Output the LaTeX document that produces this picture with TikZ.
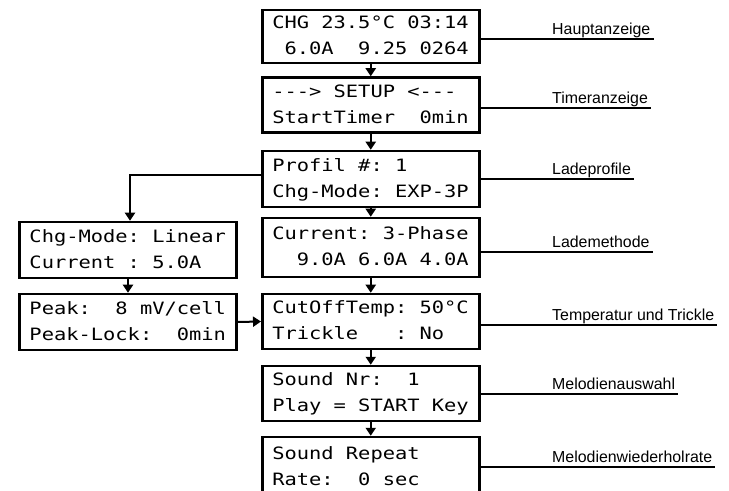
\documentclass[tikz,border=0pt]{standalone}
\usepackage{fontspec}
\usetikzlibrary{arrows.meta}
\newfontfamily\lcdfont[FakeStretch=1.2]{DejaVu Sans Mono}
\newfontfamily\labfont{Liberation Sans}
\newcommand\lc{\phantom{0}}
\tikzset{
  lcdbox/.style={draw, line width=2.5bp, minimum width=217bp, minimum height=55bp,
    inner sep=0pt, text width=197bp, align=left,
    font=\lcdfont\fontsize{17bp}{26bp}\selectfont},
  lab/.style={anchor=south west, inner xsep=3bp, inner ysep=4.5bp, text depth=0pt,
    font=\labfont\fontsize{15.9bp}{18bp}\selectfont},
  labline/.style={line width=2bp},
  conn/.style={line width=2bp, -{Triangle[width=10bp,length=8bp]}},
}
\begin{document}
\begin{tikzpicture}[x=1bp,y=-1bp]
\useasboundingbox (0,0) rectangle (729,491);
\clip (0,0) rectangle (729,491);
\fill[white] (0,0) rectangle (729,491);
% centre column
\node[lcdbox, minimum height=53bp] (b1) at (370.75,36.5) {\strut CHG\lc 23.5°C\lc 03:14\\\strut \lc 6.0A\lc\lc 9.25\lc 0264};
\node[lcdbox] (b2) at (370.75,105) {\strut -{}-{}->\lc SETUP\lc <-{}-{}-\\\strut StartTimer\lc\lc 0min};
\node[lcdbox, minimum height=56bp] (b3) at (370.75,179) {\strut Profil\lc\#:\lc 1\\\strut Chg-Mode:\lc EXP-3P};
\node[lcdbox, minimum height=59bp] (b4) at (370.75,247.5) {\strut Current:\lc 3-Phase\\\strut \lc\lc 9.0A\lc 6.0A\lc 4.0A};
\node[lcdbox] (b5) at (370.75,321.5) {\strut CutOffTemp:\lc 50°C\\\strut Trickle\lc\lc\lc:\lc No};
\node[lcdbox] (b6) at (370.75,393.5) {\strut Sound\lc Nr:\lc\lc 1\\\strut Play\lc=\lc START\lc Key};
\node[lcdbox, minimum height=60bp] (b7) at (370.75,467) {\strut Sound\lc Repeat\\\strut Rate:\lc\lc 0\lc sec};
% left column
\node[lcdbox, minimum height=56bp] (lA) at (128,250) {\strut Chg-Mode:\lc Linear\\\strut Current\lc:\lc 5.0A};
\node[lcdbox, minimum height=56bp] (lB) at (128,322) {\strut Peak:\lc\lc 8\lc mV/cell\\\strut Peak-Lock:\lc\lc 0min};
% arrows
\draw[conn] (b1.south) -- (b2.north);
\draw[conn] (b2.south) -- (b3.north);
\draw[conn] (b3.south) -- (b4.north);
\draw[conn] (b4.south) -- (b5.north);
\draw[conn] (b5.south) -- (b6.north);
\draw[conn] (b6.south) -- (b7.north);
\draw[conn] ([yshift=4bp]b3.west) -| ([xshift=2bp]lA.north);
\draw[conn] (lA.south) -- (lB.north);
\draw[conn] (lB.east) -- (b5.west);
% labels
\node[lab] (t1) at (549,39) {Hauptanzeige};
\node[lab] (t2) at (549,108) {Timeranzeige};
\node[lab] (t3) at (549,179) {Ladeprofile};
\node[lab] (t4) at (549,252) {Lademethode};
\node[lab] (t5) at (549,325) {Temperatur und Trickle};
\node[lab] (t6) at (549,394) {Melodienauswahl};
\node[lab] (t7) at (549,467) {Melodienwiederholrate};
\draw[labline] (b1.east |- t1.south) -- (t1.south east);
\draw[labline] (b2.east |- t2.south) -- (t2.south east);
\draw[labline] (b3.east |- t3.south) -- (t3.south east);
\draw[labline] (b4.east |- t4.south) -- (t4.south east);
\draw[labline] (b5.east |- t5.south) -- (t5.south east);
\draw[labline] (b6.east |- t6.south) -- (t6.south east);
\draw[labline] (b7.east |- t7.south) -- (t7.south east);
\end{tikzpicture}
\end{document}
